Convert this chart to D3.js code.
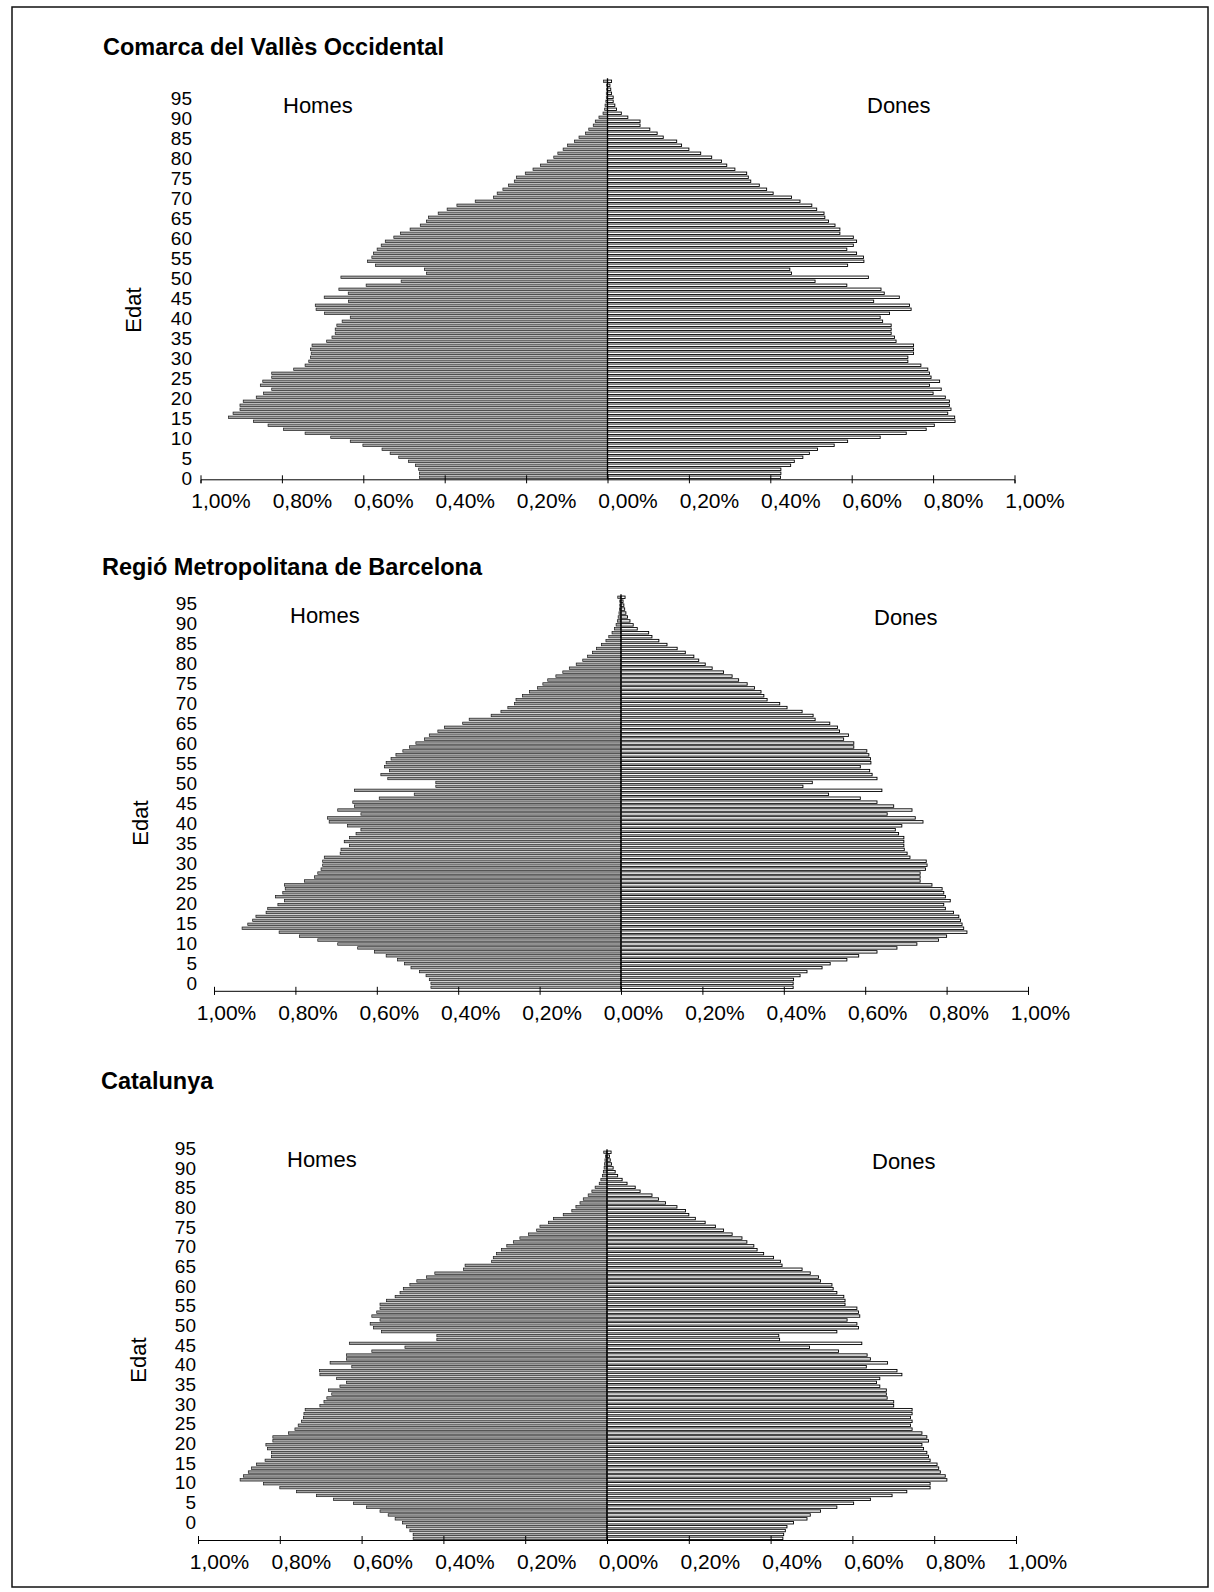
<!DOCTYPE html>
<html>
<head>
<meta charset="utf-8">
<script src="https://cdn.jsdelivr.net/npm/d3@7"></script>
<style>
  body { margin: 0; background: #fff; }
  svg text { font-family: "Liberation Sans", Arial, sans-serif; fill: #000; }
</style>
</head>
<body>
<svg id="chart" width="1214" height="1592"></svg>
<script>
// edats simples 0..99, etiquetes cada 5 anys
const ages = d3.range(0, 100)
const ageTicks = d3.range(0, 100, 5)
const pctTicks = [-1, -0.8, -0.6, -0.4, -0.2, 0, 0.2, 0.4, 0.6, 0.8, 1]

const titles = ["Comarca del Vallès Occidental", "Regió Metropolitana de Barcelona", "Catalunya"]

// % sobre la població total, per edat (0..99)
const homesValles = [0.462,0.462,0.464,0.472,0.489,0.513,0.534,0.554,0.601,0.632,
  0.68,0.743,0.796,0.834,0.87,0.931,0.92,0.903,0.903,0.895,
  0.863,0.845,0.825,0.853,0.847,0.825,0.825,0.771,0.743,0.734,
  0.73,0.728,0.73,0.726,0.69,0.677,0.669,0.669,0.665,0.652,
  0.632,0.695,0.716,0.718,0.636,0.696,0.637,0.66,0.593,0.507,
  0.655,0.445,0.45,0.57,0.59,0.579,0.575,0.566,0.556,0.546,
  0.525,0.509,0.485,0.46,0.445,0.44,0.416,0.394,0.37,0.325,
  0.28,0.271,0.257,0.243,0.229,0.224,0.202,0.183,0.165,0.148,
  0.132,0.122,0.109,0.098,0.081,0.07,0.054,0.046,0.035,0.03,
  0.021,0.011,0.007,0.006,0.004,0.003,0.003,0.002,0.002,0.01]
const donesValles = [0.425,0.426,0.426,0.45,0.459,0.48,0.496,0.516,0.557,0.59,
  0.67,0.734,0.783,0.803,0.854,0.853,0.836,0.844,0.84,0.84,
  0.83,0.80,0.82,0.791,0.816,0.795,0.791,0.787,0.77,0.738,
  0.738,0.752,0.752,0.752,0.709,0.705,0.697,0.697,0.697,0.676,
  0.67,0.693,0.746,0.742,0.654,0.717,0.68,0.672,0.588,0.51,
  0.641,0.452,0.448,0.59,0.63,0.629,0.612,0.588,0.604,0.612,
  0.604,0.571,0.571,0.559,0.543,0.534,0.532,0.514,0.502,0.473,
  0.452,0.407,0.391,0.373,0.352,0.346,0.342,0.313,0.293,0.28,
  0.256,0.229,0.2,0.182,0.17,0.137,0.122,0.104,0.08,0.08,
  0.05,0.034,0.022,0.018,0.014,0.014,0.01,0.008,0.006,0.01]

const homesRMB = [0.467,0.467,0.471,0.479,0.495,0.516,0.532,0.549,0.577,0.606,
  0.647,0.696,0.745,0.79,0.84,0.931,0.917,0.905,0.897,0.872,
  0.868,0.843,0.827,0.849,0.831,0.825,0.827,0.778,0.753,0.745,
  0.737,0.733,0.733,0.729,0.69,0.688,0.667,0.68,0.667,0.651,
  0.639,0.672,0.717,0.721,0.639,0.696,0.655,0.659,0.594,0.508,
  0.655,0.455,0.455,0.573,0.59,0.569,0.581,0.577,0.565,0.553,
  0.536,0.52,0.504,0.483,0.471,0.45,0.434,0.389,0.373,0.319,
  0.295,0.278,0.262,0.258,0.242,0.225,0.205,0.192,0.18,0.16,
  0.143,0.127,0.11,0.094,0.082,0.07,0.06,0.048,0.037,0.03,
  0.022,0.016,0.012,0.009,0.007,0.005,0.004,0.003,0.003,0.008]
const donesRMB = [0.423,0.423,0.424,0.44,0.457,0.494,0.514,0.555,0.584,0.629,
  0.678,0.727,0.78,0.80,0.85,0.842,0.838,0.834,0.83,0.817,
  0.797,0.793,0.809,0.797,0.793,0.789,0.764,0.735,0.735,0.735,
  0.748,0.752,0.75,0.71,0.703,0.696,0.695,0.695,0.695,0.682,
  0.674,0.69,0.742,0.723,0.654,0.715,0.67,0.629,0.588,0.51,
  0.641,0.447,0.47,0.629,0.617,0.611,0.588,0.614,0.613,0.609,
  0.604,0.572,0.572,0.547,0.559,0.537,0.532,0.513,0.477,0.472,
  0.445,0.408,0.39,0.359,0.351,0.344,0.328,0.31,0.289,0.273,
  0.252,0.224,0.207,0.191,0.179,0.158,0.138,0.113,0.093,0.076,
  0.068,0.04,0.03,0.022,0.016,0.012,0.009,0.007,0.005,0.01]

const homesCat = [0.474,0.474,0.482,0.49,0.5,0.518,0.535,0.555,0.588,0.62,
  0.669,0.71,0.759,0.8,0.84,0.897,0.889,0.877,0.869,0.857,
  0.836,0.82,0.82,0.83,0.834,0.817,0.817,0.779,0.763,0.755,
  0.747,0.742,0.741,0.738,0.702,0.692,0.685,0.673,0.681,0.653,
  0.637,0.661,0.702,0.703,0.624,0.677,0.637,0.637,0.575,0.494,
  0.63,0.416,0.416,0.551,0.571,0.579,0.555,0.575,0.563,0.555,
  0.555,0.539,0.518,0.506,0.498,0.482,0.465,0.441,0.421,0.351,
  0.347,0.282,0.278,0.27,0.258,0.245,0.229,0.213,0.192,0.172,
  0.164,0.143,0.131,0.107,0.086,0.076,0.066,0.058,0.046,0.037,
  0.029,0.019,0.015,0.011,0.009,0.007,0.006,0.005,0.004,0.008]
const donesCat = [0.43,0.432,0.436,0.44,0.456,0.489,0.497,0.522,0.562,0.603,
  0.644,0.697,0.733,0.79,0.79,0.831,0.827,0.815,0.811,0.807,
  0.79,0.786,0.782,0.774,0.77,0.786,0.782,0.77,0.746,0.742,
  0.746,0.742,0.746,0.746,0.701,0.701,0.685,0.683,0.683,0.667,
  0.659,0.667,0.721,0.709,0.634,0.686,0.644,0.636,0.566,0.495,
  0.623,0.422,0.42,0.562,0.615,0.611,0.587,0.618,0.615,0.611,
  0.582,0.582,0.579,0.562,0.553,0.55,0.522,0.517,0.497,0.477,
  0.428,0.424,0.407,0.383,0.367,0.359,0.342,0.33,0.306,0.285,
  0.265,0.24,0.216,0.2,0.192,0.171,0.143,0.126,0.11,0.081,
  0.069,0.049,0.037,0.026,0.02,0.015,0.011,0.008,0.006,0.01]

// disposició de cada piràmide dins la pàgina
const panels = [
  { title: titles[0], homes: homesValles, dones: donesValles,
    cx: 607.5, k: 407, barTop: 79.3, barBot: 479.3, axisY: 479.3,
    lab95: 98.3, lab0: 478.3, labX: 192, tickDx: 20,
    titleX: 103, titleY: 55, edat: [133, 310],
    homesXY: [283, 112.7], donesXY: [867, 113] },
  { title: titles[1], homes: homesRMB, dones: donesRMB,
    cx: 621, k: 407, barTop: 595.3, barBot: 989.3, axisY: 990.8,
    lab95: 603.3, lab0: 983.7, labX: 197, tickDx: 12,
    titleX: 102, titleY: 575, edat: [140, 823],
    homesXY: [290, 622.7], donesXY: [874, 625] },
  { title: titles[2], homes: homesCat, dones: donesCat,
    cx: 607, k: 409, barTop: 1150.3, barBot: 1540.3, axisY: 1540,
    lab95: 1148.3, lab0: 1522, labX: 196, tickDx: 21,
    titleX: 101, titleY: 1089, edat: [138, 1360],
    homesXY: [287, 1166.7], donesXY: [872, 1169] }
]

const svg = d3.select("#chart")

svg.append("rect")
  .attr("x", 12).attr("y", 7)
  .attr("width", 1196).attr("height", 1580)
  .attr("fill", "none").attr("stroke", "#111").attr("stroke-width", 1.5)

const fmt = d => d3.format(".2f")(Math.abs(d)).replace(".", ",") + "%"

function drawPanel(p) {
  const g = svg.append("g")

  const x = d3.scaleLinear().domain([-1, 1]).range([p.cx - p.k, p.cx + p.k])
  const y = d3.scaleBand().domain(ages).range([p.barBot, p.barTop])
  const yLab = d3.scaleLinear().domain([0, 95]).range([p.lab0, p.lab95])
  const h = y.bandwidth() * 0.62
  const off = (y.bandwidth() - h) / 2

  g.append("text")
    .attr("x", p.titleX).attr("y", p.titleY)
    .style("font-size", "23.5px").style("font-weight", "bold")
    .text(p.title)

  // homes: a l'esquerra, gris
  g.append("g").selectAll("rect")
    .data(ages)
    .join("rect")
    .attr("x", a => x(-p.homes[a]))
    .attr("y", a => y(a) + off)
    .attr("width", a => x(0) - x(-p.homes[a]))
    .attr("height", h)
    .attr("fill", "#a3a3a3")
    .attr("stroke", "#1a1a1a")
    .attr("stroke-width", 0.7)

  // dones: a la dreta, blanc
  g.append("g").selectAll("rect")
    .data(ages)
    .join("rect")
    .attr("x", x(0))
    .attr("y", a => y(a) + off)
    .attr("width", a => x(p.dones[a]) - x(0))
    .attr("height", h)
    .attr("fill", "#fff")
    .attr("stroke", "#000")
    .attr("stroke-width", 0.9)

  g.append("line")
    .attr("x1", x(0)).attr("x2", x(0))
    .attr("y1", p.axisY).attr("y2", p.barTop - 1)
    .attr("stroke", "#000").attr("stroke-width", 1.3)

  const ax = g.append("g")
    .attr("transform", `translate(0,${p.axisY})`)
    .call(d3.axisBottom(x).tickValues(pctTicks).tickFormat(fmt).tickSizeOuter(0).tickSize(4))
  ax.select(".domain").attr("stroke", "#000")
  ax.selectAll(".tick line").attr("y1", -4).attr("y2", 4).attr("stroke", "#000")
  ax.selectAll(".tick text")
    .attr("y", 29).attr("dy", 0).attr("dx", p.tickDx)
    .style("font-size", "21px")
    .style("font-family", "'Liberation Sans', Arial, sans-serif")

  const ay = g.append("g")
    .attr("transform", `translate(${p.labX},0)`)
    .call(d3.axisLeft(yLab).tickValues(ageTicks).tickSize(0).tickPadding(0))
  ay.select(".domain").remove()
  ay.selectAll(".tick text")
    .style("font-size", "19px")
    .style("font-family", "'Liberation Sans', Arial, sans-serif")

  g.append("text")
    .attr("transform", `translate(${p.edat[0]},${p.edat[1]}) rotate(-90)`)
    .attr("text-anchor", "middle").attr("dominant-baseline", "central")
    .style("font-size", "22px")
    .text("Edat")

  g.append("text")
    .attr("x", p.homesXY[0]).attr("y", p.homesXY[1])
    .style("font-size", "22px")
    .text("Homes")
  g.append("text")
    .attr("x", p.donesXY[0]).attr("y", p.donesXY[1])
    .style("font-size", "22px")
    .text("Dones")
}

panels.forEach(drawPanel)
</script>
</body>
</html>
